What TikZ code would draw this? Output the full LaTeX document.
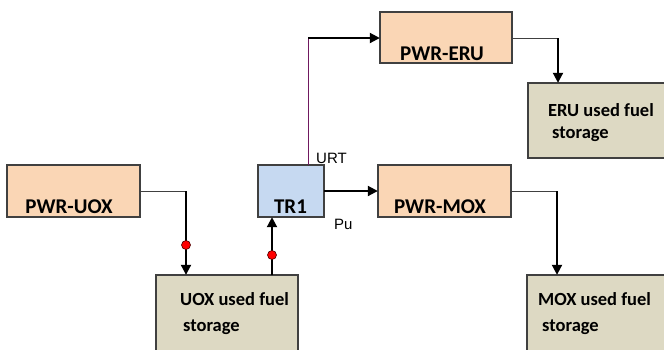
\documentclass[tikz,border=0pt]{standalone}
\usepackage{fontspec}
\setmainfont{Carlito}
\newfontfamily\arialfont{Liberation Sans}
\usetikzlibrary{arrows.meta}
\definecolor{peach}{RGB}{250,214,181}
\definecolor{tan}{RGB}{221,217,195}
\definecolor{lblue}{RGB}{198,217,241}
\definecolor{bord}{RGB}{64,64,64}
\definecolor{urtline}{RGB}{112,24,96}
\tikzset{
  box/.style={draw=bord,line width=1.3pt},
  boxlabel/.style={font=\fontsize{21}{23}\selectfont\bfseries,inner sep=0pt,anchor=base},
  storelabel/.style={font=\fontsize{18.5}{20}\selectfont\bfseries,inner sep=0pt,anchor=base west},
  small/.style={font=\arialfont\fontsize{15}{17}\selectfont,inner sep=0pt,anchor=base west},
  thinline/.style={draw=bord,line width=1pt},
  thick arrow/.style={draw=black,line width=2pt,-{Triangle[length=10pt,width=10pt]}},
  dot/.style={circle,fill=red,draw=black!70!red,line width=0.6pt,inner sep=0pt,minimum size=9pt}
}
\begin{document}
\begin{tikzpicture}[x=1pt,y=-1pt]
\clip (0,0) rectangle (664,349);
\fill[white] (0,0) rectangle (664,349);
% boxes
\path[box,fill=peach] (7,165) rectangle (140,217);
\node[inner sep=0pt,minimum width=133pt,minimum height=52pt] (uox) at (73.5,191) {};
\path[box,fill=lblue] (258,165) rectangle (324,217);
\node[inner sep=0pt,minimum width=66pt,minimum height=52pt] (tr1) at (291,191) {};
\path[box,fill=peach] (378,165) rectangle (511,217);
\node[inner sep=0pt,minimum width=133pt,minimum height=52pt] (mox) at (444.5,191) {};
\path[box,fill=peach] (380,12) rectangle (512,63);
\node[inner sep=0pt,minimum width=132pt,minimum height=51pt] (eru) at (446,37.5) {};
\path[box,fill=tan] (156,275) rectangle (298,360);
\node[inner sep=0pt,minimum width=142pt,minimum height=85pt] (uoxs) at (227,317.5) {};
\path[box,fill=tan] (527,275) rectangle (680,360);
\node[inner sep=0pt,minimum width=153pt,minimum height=85pt] (moxs) at (603.5,317.5) {};
\path[box,fill=tan] (528,83) rectangle (680,158);
\node[inner sep=0pt,minimum width=152pt,minimum height=75pt] (erus) at (604,120.5) {};
% labels
\node[boxlabel] (luox) at (69,213) {PWR-UOX};
\node[boxlabel] (ltr1) at (290.5,213) {TR1};
\node[boxlabel] (lmox) at (440,213) {PWR-MOX};
\node[boxlabel] (leru) at (442,60) {PWR-ERU};
\node[storelabel] (luoxs1) at (180,305) {UOX used fuel};
\node[storelabel] (luoxs2) at (183,331) {storage};
\node[storelabel] (lmoxs1) at (538,305) {MOX used fuel};
\node[storelabel] (lmoxs2) at (542,331) {storage};
\node[storelabel] (lerus1) at (548,116) {ERU used fuel};
\node[storelabel] (lerus2) at (552,138) {storage};
\node[small] (urt) at (316,163) {URT};
\node[small] (pu) at (334,229) {Pu};
% connectors
\coordinate (c1) at (186,191);
\draw[thinline] (uox.east |- c1) -- (c1);
\draw[thick arrow] (c1) -- (c1 |- uoxs.north);
\node[dot] (d1) at (186,245) {};
\coordinate (c2) at (272,275);
\draw[thick arrow] (c2) -- (c2 |- tr1.south);
\node[dot] (d2) at (272,255) {};
\draw[thick arrow] (tr1.east) -- (mox.west);
\coordinate (c3) at (308,165);
\coordinate (c4) at (308,38);
\draw[draw=urtline,line width=1pt] (c3) -- (c4);
\draw[thick arrow] (c4) -- (c4 -| eru.west);
\coordinate (c5) at (558,38);
\draw[thinline] (eru.east |- c5) -- (c5);
\draw[thick arrow] (c5) -- (c5 |- erus.north);
\coordinate (c6) at (557,191);
\draw[thinline] (mox.east) -- (c6);
\draw[thick arrow] (c6) -- (c6 |- moxs.north);
\end{tikzpicture}
\end{document}
